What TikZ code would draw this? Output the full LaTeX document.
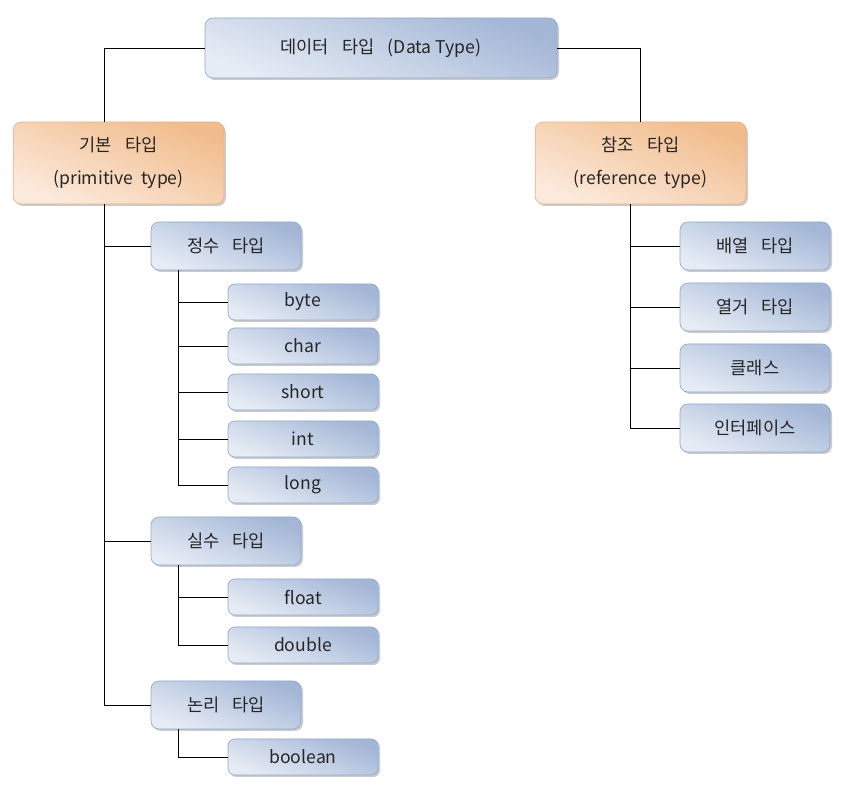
\documentclass[tikz,border=0pt]{standalone}
\usepackage{fontspec}
\setmainfont{Noto Sans CJK KR}
\usetikzlibrary{shadows,positioning}
\definecolor{blueD}{HTML}{A3B6D6}
\definecolor{blueL}{HTML}{E6ECF5}
\definecolor{blueE}{HTML}{93A8C9}
\definecolor{orangeD}{HTML}{F1BC8C}
\definecolor{orangeL}{HTML}{FCEADC}
\definecolor{orangeE}{HTML}{E8B48A}
\definecolor{ink}{HTML}{262626}
\newcommand{\gap}{\hspace{0.75em}}

\begin{document}
\begin{tikzpicture}[
      x=0.75pt, y=-0.75pt,
      every node/.style={font=\fontsize{13.2}{25}\selectfont, text=ink},
      card/.style={draw=blueE, line width=0.5pt, rounded corners=6pt,
        shading=axis, top color=blueD, bottom color=blueL, shading angle=-22,
        drop shadow={shadow xshift=1.5pt, shadow yshift=-1.5pt, fill=black!45, opacity=0.45}},
      head/.style={card, minimum width=264pt, minimum height=45pt},
      group/.style={card, draw=orangeE, top color=orangeD, bottom color=orangeL, shading angle=-22,
        align=center, minimum width=158pt, minimum height=61.5pt},
      kind/.style={card, minimum width=112.5pt, minimum height=36pt},
      leaf/.style={card, minimum width=112.5pt, minimum height=27pt, rounded corners=5pt},
      wire/.style={line width=0.6pt, black}
  ]
    \useasboundingbox (0,0) rectangle (844,798);

    \node[head] (dt) at (381,48) {데이터\gap 타입\gap (Data\ Type)};

    \node[group] (prim) at (118.5,163) {기본\gap 타입\\(primitive\ \ type)};
    \node[group] (ref)  at (640.5,163) {참조\gap 타입\\(reference\ \ type)};

    % primitive side
    \node[kind] (int)  at (226,246) {정수\gap 타입};
    \node[leaf] (byte) at (303,302) {byte};
    \node[leaf] (char) at (303,346) {char};
    \node[leaf] (shrt) at (303,392) {short};
    \node[leaf] (inte) at (303,439) {int};
    \node[leaf] (long) at (303,485) {long};

    \node[kind] (real) at (226,541) {실수\gap 타입};
    \node[leaf] (flt)  at (303,597) {float};
    \node[leaf] (dbl)  at (303,645) {double};

    \node[kind] (logi) at (226,705) {논리\gap 타입};
    \node[leaf] (bool) at (303,757) {boolean};

    % reference side
    \node[kind] (arr)  at (755,246) {배열\gap 타입};
    \node[kind] (enm)  at (755,307) {열거\gap 타입};
    \node[kind] (cls)  at (755,368) {클래스};
    \node[kind] (ifc)  at (755,428) {인터페이스};

    \coordinate (lt) at (104,0);
    \coordinate (st) at (178,0);
    \coordinate (rt) at (630,0);

    \draw[wire] (dt.west) -| (lt |- prim.north);
    \draw[wire] (dt.east) -| (ref.north);

    \draw[wire] (lt |- prim.south) |- (logi.west);
    \draw[wire] (lt |- int.west) -- (int.west);
    \draw[wire] (lt |- real.west) -- (real.west);

    \draw[wire] (st |- int.south) |- (long.west);
    \foreach \n in {byte,char,shrt,inte}
      \draw[wire] (st |- \n.west) -- (\n.west);
    \draw[wire] (st |- real.south) |- (dbl.west);
    \draw[wire] (st |- flt.west) -- (flt.west);
    \draw[wire] (st |- logi.south) |- (bool.west);

    \draw[wire] (rt |- ref.south) |- (ifc.west);
    \foreach \n in {arr,enm,cls}
      \draw[wire] (rt |- \n.west) -- (\n.west);
\end{tikzpicture}
\end{document}
